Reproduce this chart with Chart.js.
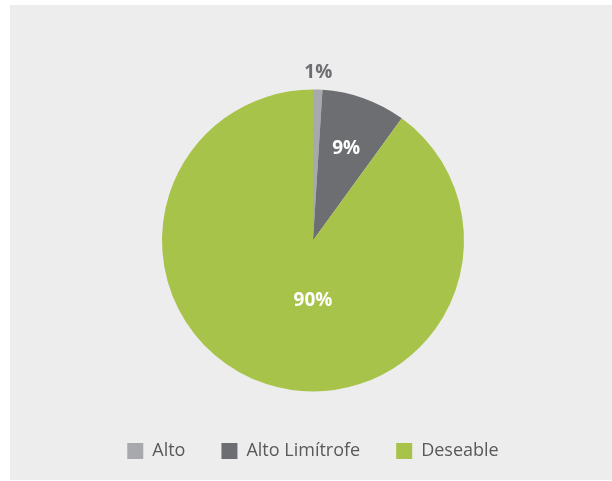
<!DOCTYPE html>
<html>
<head>
<meta charset="utf-8">
<script src="https://cdn.jsdelivr.net/npm/chart.js@4"></script>
<style>
  body { margin: 0; background: #fff; }
  #wrap { position: relative; width: 612px; height: 481px; }
  #panel { position: absolute; left: 10px; top: 5px; width: 602px; height: 475px; background: #ededed; }
  canvas { position: absolute; left: 0; top: 0; }
</style>
</head>
<body>
<div id="wrap">
  <div id="panel"></div>
  <canvas id="chart" width="612" height="481"></canvas>
</div>
<script>
// data
const categories = ["Alto", "Alto Limítrofe", "Deseable"];
const values = [1, 9, 90];
const valueLabels = ["1%", "9%", "90%"];
const colors = ["#a7a9ac", "#6d6e71", "#a8c34a"];

// where each percent label sits: radius fraction and colour
const labelRadius = [1.11, 0.65, 0.4];
const labelColors = ["#6d6e71", "#ffffff", "#ffffff"];

const pctLabels = {
  id: "pctLabels",
  afterDatasetsDraw(chart) {
    const ctx = chart.ctx;
    const meta = chart.getDatasetMeta(0);
    ctx.save();
    ctx.font = "bold 19px 'Open Sans'";
    ctx.textAlign = "center";
    ctx.textBaseline = "middle";
    meta.data.forEach((arc, i) => {
      let mid = (arc.startAngle + arc.endAngle) / 2;
      // the big slice label sits straight below centre
      if (i === 2) mid = Math.PI / 2;
      const r = arc.outerRadius * labelRadius[i];
      ctx.fillStyle = labelColors[i];
      ctx.fillText(valueLabels[i], arc.x + Math.cos(mid) * r, arc.y + Math.sin(mid) * r);
    });
    ctx.restore();
  }
};

new Chart(document.getElementById("chart"), {
  type: "pie",
  data: {
    labels: categories,
    datasets: [{
      data: values,
      backgroundColor: colors,
      borderWidth: 0,
      radius: 151
    }]
  },
  options: {
    responsive: false,
    animation: false,
    layout: { padding: { top: 75, left: 14, right: 0, bottom: 11 } },
    plugins: {
      tooltip: { enabled: false },
      legend: {
        position: "bottom",
        labels: {
          boxWidth: 16,
          boxHeight: 16,
          padding: 36,
          color: "#58595b",
          font: { family: "'Open Sans'", size: 18 }
        }
      }
    }
  },
  plugins: [pctLabels]
});
</script>
</body>
</html>
